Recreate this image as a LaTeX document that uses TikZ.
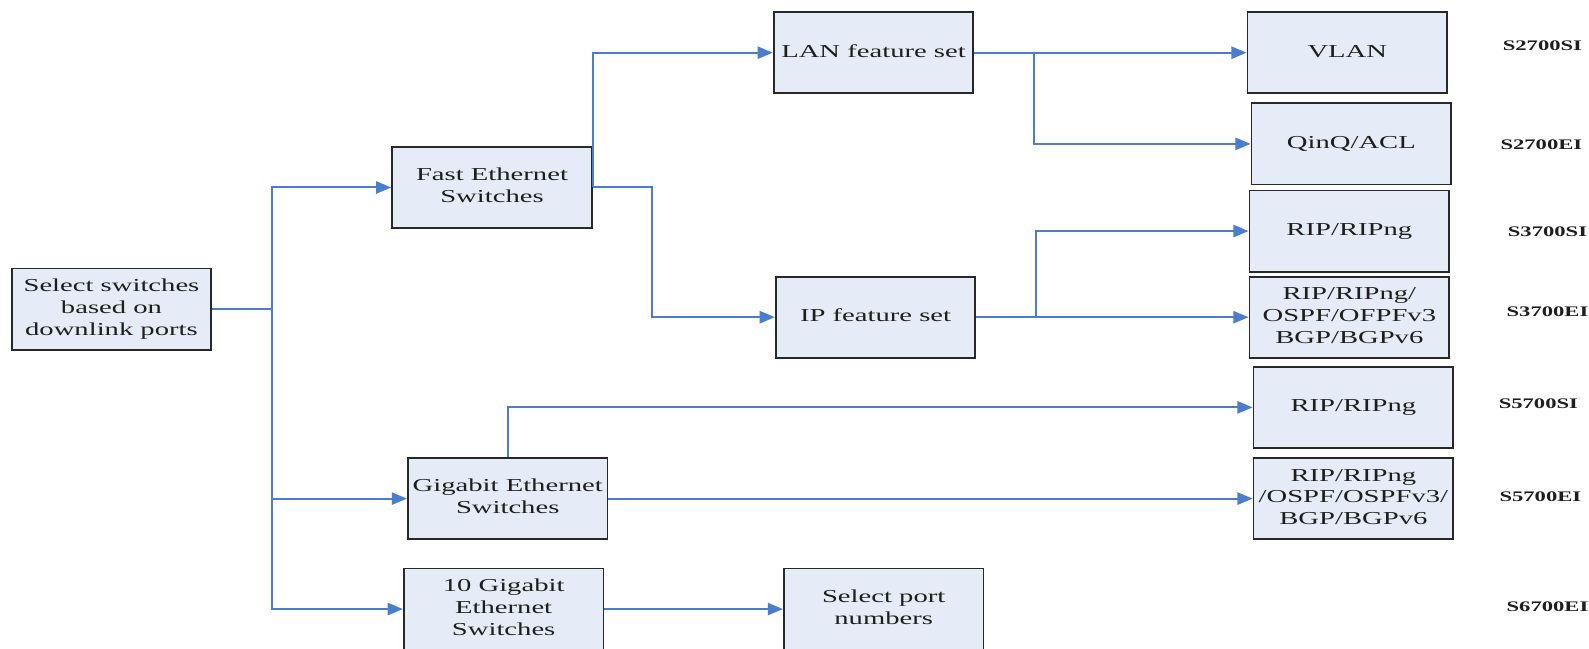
\documentclass[tikz,border=0pt]{standalone}
\usepackage{fontspec}
\setmainfont{Liberation Serif}
\usepackage{graphicx}
\usetikzlibrary{arrows.meta}
\definecolor{boxfill}{RGB}{230,236,247}
\definecolor{boxline}{RGB}{40,40,40}
\definecolor{linkblue}{RGB}{74,126,205}
\definecolor{txt}{RGB}{30,30,30}
\newcommand\bt[1]{\scalebox{1.57}[1]{\begin{tabular}{@{}c@{}}#1\end{tabular}}}
\newcommand\lb[1]{\scalebox{1.55}[1]{#1}}
\begin{document}
\begin{tikzpicture}[x=1pt,y=-1pt,
  box/.style={draw=boxline,line width=1.8pt,fill=boxfill,minimum width=197pt,minimum height=80pt,inner sep=0pt,text=txt,font=\fontsize{18}{21.7}\selectfont},
  lab/.style={inner sep=0pt,text=txt,font=\bfseries\fontsize{14.4}{16}\selectfont},
  link/.style={draw=linkblue,line width=2pt},
  arr/.style={link,-{Triangle[length=15pt,width=12pt]}}]
\useasboundingbox (0,0) rectangle (1568,640);
% boxes
\node[box] (sel) at (110,305) {\bt{Select switches\\based on\\downlink ports}};
\node[box] (fe) at (485.5,185) {\bt{Fast Ethernet\\Switches}};
\node[box] (ge) at (501,492) {\bt{Gigabit Ethernet\\Switches}};
\node[box] (tg) at (497,601) {\bt{10 Gigabit\\Ethernet\\Switches}};
\node[box] (lan) at (862,52) {\bt{LAN feature set}};
\node[box] (ip) at (864,313) {\bt{IP feature set}};
\node[box] (spn) at (872,601) {\bt{Select port\\numbers}};
\node[box] (vlan) at (1329.5,52) {\bt{VLAN}};
\node[box] (qinq) at (1333.5,142) {\bt{QinQ/ACL}};
\node[box] (rip1) at (1331.5,228) {\bt{RIP/RIPng}};
\node[box] (ripx) at (1331.5,313) {\bt{RIP/RIPng/\\OSPF/OFPFv3\\BGP/BGPv6}};
\node[box] (rip2) at (1335.5,402) {\bt{RIP/RIPng}};
\node[box] (ripy) at (1335.5,492) {\bt{RIP/RIPng\\/OSPF/OSPFv3/\\BGP/BGPv6}};
% labels
\node[lab] (l1) at (1522,45) {\lb{S2700SI}};
\node[lab] (l2) at (1521,143) {\lb{S2700EI}};
\node[lab] (l3) at (1527,229) {\lb{S3700SI}};
\node[lab] (l4) at (1527,308) {\lb{S3700EI}};
\node[lab] (l5) at (1518,398) {\lb{S5700SI}};
\node[lab] (l6) at (1520,490) {\lb{S5700EI}};
\node[lab] (l7) at (1527,599) {\lb{S6700EI}};
% coordinates
\coordinate (trunk) at (268,305);
\coordinate (b1) at (1020,52);
\coordinate (b2) at (1022,313);
% connectors
\draw[link] (sel.east) -- (trunk);
\draw[arr] (trunk) |- (fe.west);
\draw[arr] (trunk) |- (ge.west);
\draw[arr] (trunk) |- (tg.west);
\draw[arr] (fe.east) |- (lan.west);
\draw[arr] (fe.east) -- ++(58,0) |- (ip.west);
\draw[arr] (lan.east) -- (vlan.west);
\draw[arr] (b1) |- (qinq.west);
\draw[arr] (ip.east) -- (ripx.west);
\draw[arr] (b2) |- (rip1.west);
\draw[arr] (ge.north) |- (rip2.west);
\draw[arr] (ge.east) -- (ripy.west);
\draw[arr] (tg.east) -- (spn.west);
\end{tikzpicture}
\end{document}
